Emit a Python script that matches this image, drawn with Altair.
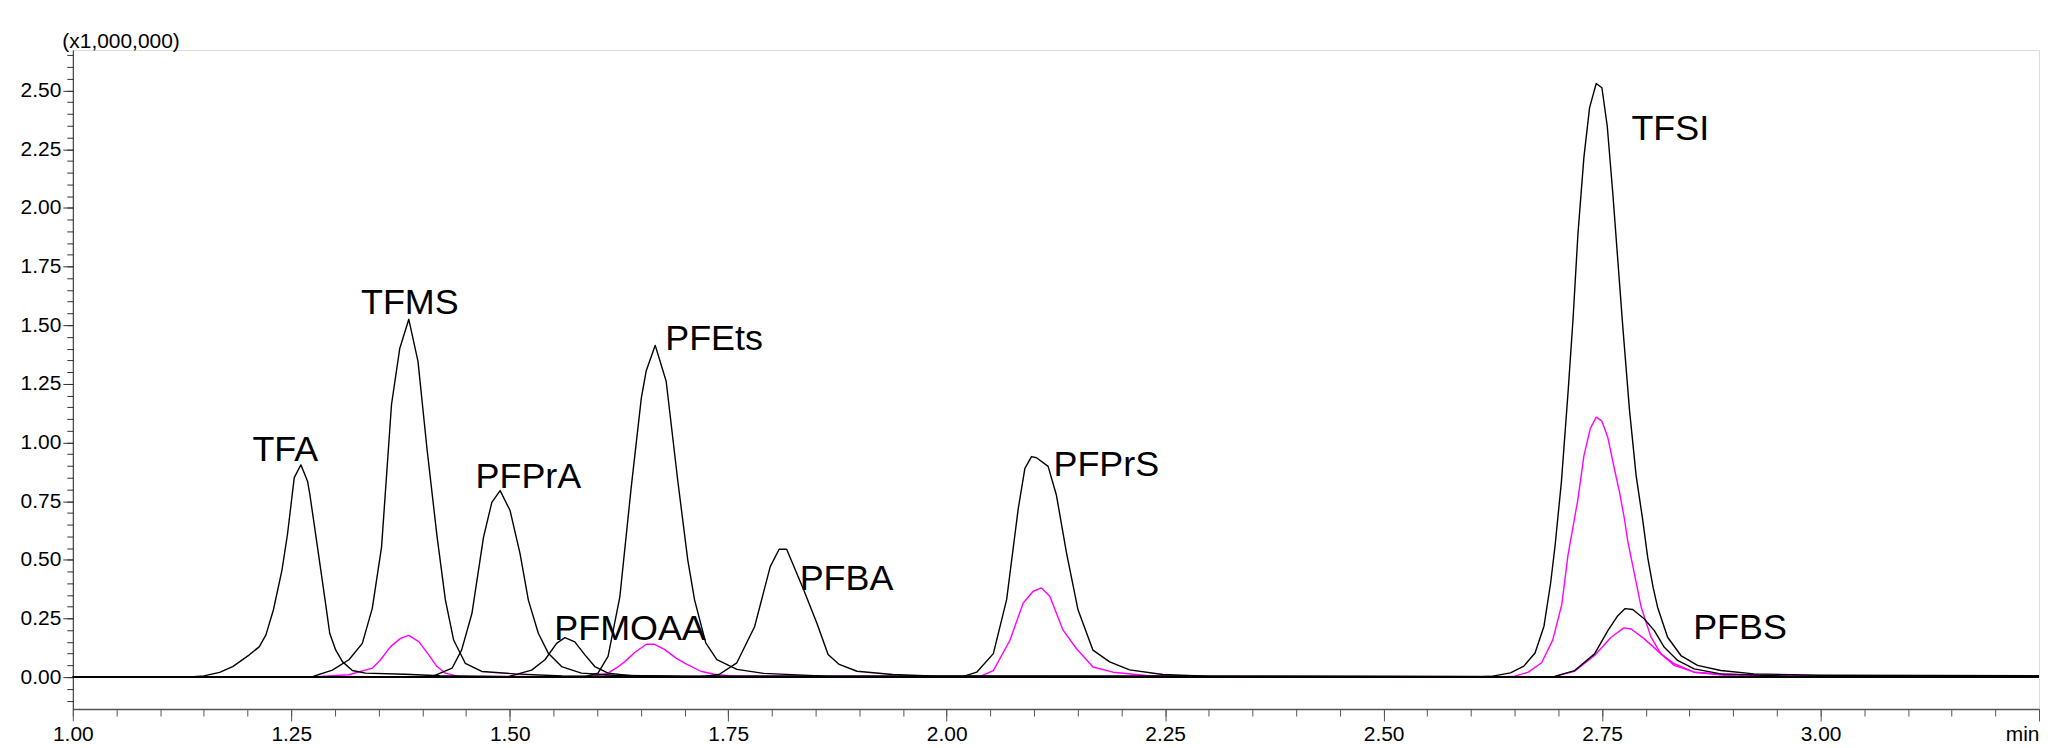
import altair as alt
import pandas as pd

# ---- traces: retention time (min) and intensity (x1,000,000) ----
TFA_T = [1.00, 1.130, 1.150, 1.168, 1.183, 1.202, 1.2135, 1.221, 1.2295, 1.2393, 1.2457, 1.2534, 1.261, 1.2686,
         1.2712, 1.280, 1.2887, 1.294, 1.3008, 1.3085, 1.3199, 1.335, 1.38, 1.42, 1.50, 3.25]
TFA_Y = [0, 0, 0.005, 0.02, 0.045, 0.095, 0.13, 0.18, 0.286, 0.455, 0.61, 0.85, 0.905, 0.835,
         0.78, 0.554, 0.328, 0.187, 0.116, 0.066, 0.028, 0.017, 0.012, 0.006, 0.002, 0.0]

TFMS_T = [1.00, 1.26, 1.2743, 1.297, 1.316, 1.3313, 1.3427, 1.3533, 1.3647, 1.3742, 1.3845, 1.395, 1.4054,
          1.4168, 1.4263, 1.4358, 1.4491, 1.468, 1.506, 1.56, 3.25]
TFMS_Y = [0, 0, 0.002, 0.03, 0.074, 0.144, 0.293, 0.554, 1.162, 1.402, 1.525, 1.346, 0.97,
          0.6, 0.33, 0.158, 0.059, 0.024, 0.014, 0.005, 0]

PFPRA_T = [1.00, 1.40, 1.411, 1.434, 1.445, 1.4567, 1.47, 1.4795, 1.489, 1.5004, 1.5118, 1.5213, 1.5327,
           1.5441, 1.5593, 1.582, 1.62, 1.70, 3.25]
PFPRA_Y = [0, 0, 0.002, 0.038, 0.116, 0.271, 0.597, 0.745, 0.795, 0.71, 0.526, 0.328, 0.187,
           0.102, 0.045, 0.017, 0.008, 0.003, 0]

PFMOAA_T = [1.00, 1.49, 1.4984, 1.525, 1.5403, 1.5536, 1.5631, 1.5745, 1.586, 1.5973, 1.6125, 1.639, 1.70, 3.25]
PFMOAA_Y = [0, 0, 0.002, 0.03, 0.074, 0.144, 0.168, 0.15, 0.095, 0.045, 0.017, 0.006, 0.002, 0]

PFETS_T = [1.00, 1.575, 1.586, 1.601, 1.6125, 1.626, 1.639, 1.6506, 1.6562, 1.6665, 1.679, 1.6923, 1.7037,
           1.7115, 1.7243, 1.737, 1.76, 1.7905, 1.8617, 3.25]
PFETS_Y = [0, 0, 0.002, 0.017, 0.088, 0.342, 0.809, 1.19, 1.306, 1.414, 1.261, 0.837, 0.50,
           0.329, 0.146, 0.075, 0.033, 0.016, 0.004, 0]

PFBA_T = [1.00, 1.71, 1.7243, 1.7395, 1.7599, 1.7803, 1.7981, 1.8083, 1.8169, 1.8363, 1.8515, 1.8643, 1.877,
          1.8974, 1.938, 1.989, 3.25]
PFBA_Y = [0, 0, 0.004, 0.011, 0.061, 0.216, 0.471, 0.545, 0.545, 0.372, 0.23, 0.096, 0.054,
          0.025, 0.011, 0.004, 0]

PFPRS_T = [1.00, 2.00, 2.0192, 2.0344, 2.0534, 2.0686, 2.0819, 2.0895, 2.0971, 2.1028, 2.1161, 2.1256, 2.1371,
           2.1503, 2.1674, 2.1865, 2.2093, 2.2473, 2.3043, 3.25]
PFPRS_Y = [0, 0, 0.003, 0.021, 0.10, 0.33, 0.718, 0.89, 0.94, 0.935, 0.898, 0.775, 0.53,
           0.287, 0.115, 0.065, 0.031, 0.011, 0.003, 0]

TFSI_T = [1.00, 2.60, 2.6248, 2.6452, 2.6605, 2.6733, 2.6835, 2.6911, 2.6962, 2.7034, 2.711, 2.7167, 2.7224,
          2.7292, 2.7357, 2.7433, 2.7498, 2.7559, 2.7623, 2.768, 2.7737, 2.7813, 2.789, 2.7965, 2.8022,
          2.8085, 2.8136, 2.825, 2.8402, 2.8592, 2.8858, 2.9238, 3.00, 3.12, 3.25]
TFSI_Y = [0, 0, 0.004, 0.018, 0.047, 0.103, 0.217, 0.40, 0.56, 0.83, 1.211, 1.522, 1.89,
          2.215, 2.427, 2.53, 2.512, 2.349, 2.06, 1.777, 1.494, 1.141, 0.858, 0.67, 0.51,
          0.38, 0.297, 0.17, 0.092, 0.05, 0.028, 0.014, 0.008, 0.007, 0.006]

PFBS_T = [1.00, 2.66, 2.6958, 2.7186, 2.7414, 2.7566, 2.768, 2.7764, 2.7851, 2.7984, 2.8098, 2.8212, 2.8364,
          2.8554, 2.8858, 2.9619, 3.25]
PFBS_Y = [0, 0, 0.003, 0.028, 0.099, 0.198, 0.262, 0.292, 0.288, 0.248, 0.198, 0.127, 0.071,
          0.035, 0.014, 0.004, 0.002]

# magenta (second channel) traces
TFMS_Q_T = [1.00, 1.27, 1.316, 1.3427, 1.3522, 1.3636, 1.375, 1.3845, 1.3959, 1.4073, 1.4168, 1.4263, 1.4415, 3.25]
TFMS_Q_Y = [0, 0, 0.01, 0.038, 0.074, 0.13, 0.165, 0.178, 0.151, 0.095, 0.045, 0.017, 0.003, 0]

PFETS_Q_T = [1.00, 1.59, 1.6125, 1.622, 1.6315, 1.643, 1.6562, 1.6657, 1.677, 1.69, 1.70, 1.7186, 1.734, 1.755, 3.25]
PFETS_Q_Y = [0, 0, 0.017, 0.039, 0.065, 0.105, 0.14, 0.14, 0.118, 0.082, 0.06, 0.025, 0.012, 0.004, 0]

PFPRS_Q_T = [1.00, 2.03, 2.0382, 2.0534, 2.0724, 2.0876, 2.099, 2.1085, 2.118, 2.1332, 2.1484, 2.1674, 2.1903,
             2.2283, 2.2663, 3.25]
PFPRS_Q_Y = [0, 0, 0.003, 0.028, 0.157, 0.316, 0.366, 0.38, 0.345, 0.2, 0.122, 0.043, 0.021,
             0.007, 0.002, 0]

TFSI_Q_T = [1.00, 2.63, 2.6503, 2.6656, 2.6809, 2.6937, 2.7039, 2.711, 2.7224, 2.7292, 2.7365, 2.7433, 2.7498,
            2.7566, 2.7642, 2.77, 2.7756, 2.7794, 2.787, 2.7946, 2.806, 2.8174, 2.8326, 2.8554, 2.8902,
            2.9668, 3.25]
TFSI_Q_Y = [0, 0, 0.004, 0.021, 0.061, 0.16, 0.31, 0.52, 0.759, 0.943, 1.059, 1.108, 1.091,
            1.021, 0.886, 0.787, 0.674, 0.58, 0.44, 0.30, 0.17, 0.099, 0.05, 0.021, 0.012,
            0.006, 0.004]

PFBS_Q_T = [1.00, 2.66, 2.6958, 2.7186, 2.7414, 2.7604, 2.7749, 2.7832, 2.7984, 2.8174, 2.8326, 2.8554, 2.8934, 3.25]
PFBS_Q_Y = [0, 0, 0.003, 0.025, 0.092, 0.17, 0.21, 0.205, 0.163, 0.099, 0.057, 0.021, 0.007, 0.002]

# peak labels
LABELS = ["TFA", "TFMS", "PFPrA", "PFMOAA", "PFEts", "PFBA", "PFPrS", "TFSI", "PFBS"]
LABEL_T = [1.2055, 1.3298, 1.4609, 1.551, 1.6779, 1.8318, 2.1222, 2.7836, 2.8542]
LABEL_V = [0.922, 1.548, 0.807, 0.158, 1.393, 0.37, 0.858, 2.29, 0.161]

# axis ticks
X_MAJOR = [1.00, 1.25, 1.50, 1.75, 2.00, 2.25, 2.50, 2.75, 3.00, 3.25]
X_MINOR = [round(1.0 + 0.05 * i, 2) for i in range(46)]
Y_MAJOR = [0.0, 0.25, 0.5, 0.75, 1.0, 1.25, 1.5, 1.75, 2.0, 2.25, 2.5]
Y_MINOR = [round(-0.10 + 0.05 * i, 2) for i in range(56)]

BLACK = "#000000"
MAGENTA = "#ff00ff"
traces = [
    ("TFMS_q", TFMS_Q_T, TFMS_Q_Y, MAGENTA),
    ("PFEts_q", PFETS_Q_T, PFETS_Q_Y, MAGENTA),
    ("PFPrS_q", PFPRS_Q_T, PFPRS_Q_Y, MAGENTA),
    ("TFSI_q", TFSI_Q_T, TFSI_Q_Y, MAGENTA),
    ("PFBS_q", PFBS_Q_T, PFBS_Q_Y, MAGENTA),
    ("TFA", TFA_T, TFA_Y, BLACK),
    ("TFMS", TFMS_T, TFMS_Y, BLACK),
    ("PFPrA", PFPRA_T, PFPRA_Y, BLACK),
    ("PFMOAA", PFMOAA_T, PFMOAA_Y, BLACK),
    ("PFEts", PFETS_T, PFETS_Y, BLACK),
    ("PFBA", PFBA_T, PFBA_Y, BLACK),
    ("PFPrS", PFPRS_T, PFPRS_Y, BLACK),
    ("TFSI", TFSI_T, TFSI_Y, BLACK),
    ("PFBS", PFBS_T, PFBS_Y, BLACK),
]
rows = []
for order, (name, ts, ys, col) in enumerate(traces):
    for t, v in zip(ts, ys):
        rows.append({"t": t, "v": v, "trace": f"{order:02d}_{name}", "color": col})
df = pd.DataFrame(rows)
lab_df = pd.DataFrame({"t": LABEL_T, "v": LABEL_V, "label": LABELS})

FONT = "Liberation Sans"
xscale = alt.Scale(domain=[1.0, 3.25], nice=False, zero=False)
yscale = alt.Scale(domain=[-0.136, 2.673], nice=False, zero=False)

lines = alt.Chart(df).mark_line(strokeWidth=1.4, strokeJoin="round").encode(
    x=alt.X("t:Q", scale=xscale, axis=alt.Axis(
        values=X_MAJOR, orient="bottom", title=None, grid=False,
        labelExpr="datum.value >= 3.249 ? 'min' : format(datum.value, '.2f')",
        labelAlign={"condition": {"test": "datum.value >= 3.249", "value": "right"}, "value": "center"},
        labelFont=FONT, labelFontSize=21, labelColor="#000", labelPadding=3,
        tickSize=12, tickColor="#555", domainColor="#555", domainWidth=1.5, labelFlush=False,
        labelOverlap=False)),
    y=alt.Y("v:Q", scale=yscale, axis=alt.Axis(
        values=Y_MAJOR, orient="left", format=".2f", grid=False,
        title="(x1,000,000)", titleAngle=0, titleAlign="left", titleBaseline="alphabetic",
        titleX=-11, titleY=-2, titleFont=FONT, titleFontSize=21, titleFontWeight="normal",
        titleColor="#000",
        labelFont=FONT, labelFontSize=21, labelColor="#000", labelPadding=2,
        tickSize=10, tickColor="#333", domainColor="#222", labelOverlap=False)),
    detail="trace:N",
    color=alt.Color("color:N", scale=None),
)

minor = alt.Chart(df).mark_line(opacity=0).encode(
    x=alt.X("t:Q", scale=xscale, axis=alt.Axis(
        values=X_MINOR, orient="bottom", title=None, labels=False, domain=False,
        grid=False, tickSize=7, tickColor="#555")),
    y=alt.Y("v:Q", scale=yscale, axis=alt.Axis(
        values=Y_MINOR, orient="left", title=None, labels=False, domain=False,
        grid=False, tickSize=6, tickColor="#333")),
    detail="trace:N",
)

text = alt.Chart(lab_df).mark_text(
    align="left", baseline="alphabetic", font=FONT, fontSize=36, color="#000"
).encode(
    x=alt.X("t:Q", scale=xscale, axis=None),
    y=alt.Y("v:Q", scale=yscale, axis=None),
    text="label:N",
)

chart = alt.layer(minor, lines, text).resolve_axis(
    x="independent", y="independent"
).properties(
    width=1972, height=661,
    padding={"left": 65, "top": 41, "right": 5, "bottom": 38},
    autosize=alt.AutoSizeParams(type="none"),
).configure_view(stroke="#222", strokeWidth=1.2).configure(background="white")

chart.save("out.html", embed_options={"renderer": "svg", "actions": False})
